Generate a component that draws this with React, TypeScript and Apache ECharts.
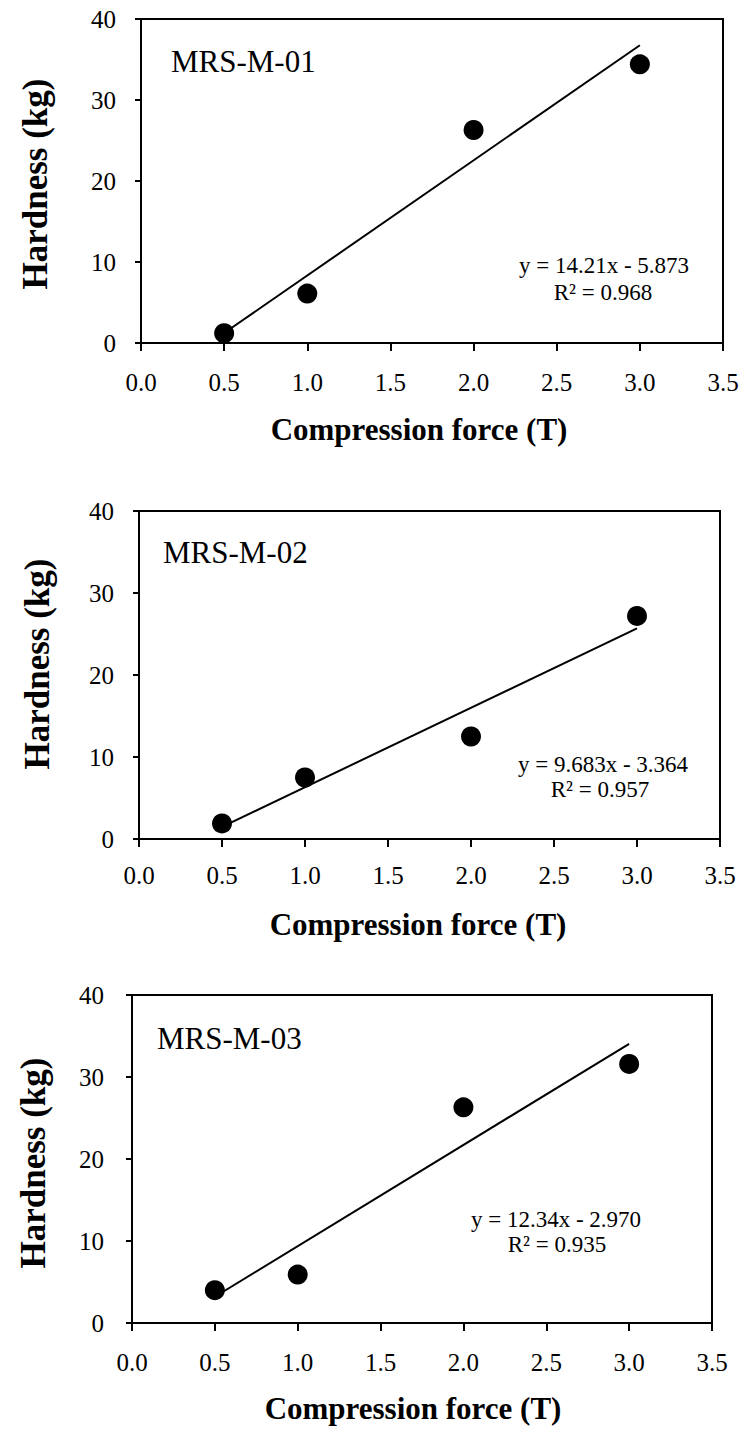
import React, { useEffect, useRef } from "react";
import * as echarts from "echarts";

// ---- data ----
const compressionForce = [0.5, 1.0, 2.0, 3.0];
const hardnessM01 = [1.2, 6.1, 26.3, 34.4];
const hardnessM02 = [1.9, 7.5, 12.5, 27.2];
const hardnessM03 = [4.0, 5.9, 26.3, 31.6];
const sampleNames = ["MRS-M-01", "MRS-M-02", "MRS-M-03"];
const trendSlopes = [14.21, 9.683, 12.34];
const trendIntercepts = [-5.873, -3.364, -2.97];
const equationLabels = ["y = 14.21x - 5.873", "y = 9.683x - 3.364", "y = 12.34x - 2.970"];
const r2Labels = ["R\u00B2 = 0.968", "R\u00B2 = 0.957", "R\u00B2 = 0.935"];
const xAxisTitle = "Compression force (T)";
const yAxisTitle = "Hardness (kg)";

const hardnessSets = [hardnessM01, hardnessM02, hardnessM03];

// ---- layout ----
const FONT = '"Liberation Serif", "Times New Roman", Times, serif';
const INK = "#000";
const W = 743;
const H = 1430;
const panels = [
  { left: 141, right: 723, top: 19, bottom: 343, xLabelMargin: 27, yLabelMargin: 25,
    name: [171, 61.5], eq: [604, 265], r2: [603, 292], yTitle: [35, 184], xTitle: [419, 429] },
  { left: 139, right: 720, top: 511, bottom: 839, xLabelMargin: 24, yLabelMargin: 25,
    name: [163, 552], eq: [603, 764], r2: [600, 789], yTitle: [37, 664], xTitle: [418, 924] },
  { left: 132, right: 712, top: 995, bottom: 1323, xLabelMargin: 27, yLabelMargin: 28,
    name: [157, 1038], eq: [556, 1219], r2: [557, 1244], yTitle: [33, 1163], xTitle: [413, 1408] },
];

export default function App() {
  const ref = useRef<HTMLDivElement>(null);

  useEffect(() => {
    if (!ref.current) return;
    const chart = echarts.init(ref.current, null, { renderer: "svg" });

    const grid: any[] = [];
    const xAxis: any[] = [];
    const yAxis: any[] = [];
    const series: any[] = [];
    const graphic: any[] = [];

    panels.forEach((p, i) => {
      grid.push({
        left: p.left,
        top: p.top,
        width: p.right - p.left,
        height: p.bottom - p.top,
        show: true,
        borderColor: INK,
        borderWidth: 2,
        backgroundColor: "transparent",
      });
      xAxis.push({
        type: "value",
        gridIndex: i,
        min: 0,
        max: 3.5,
        interval: 0.5,
        splitLine: { show: false },
        axisLine: { show: true, onZero: false, lineStyle: { color: INK, width: 2 } },
        axisTick: { show: true, length: 8, lineStyle: { color: INK, width: 2 } },
        axisLabel: {
          margin: p.xLabelMargin,
          color: INK,
          fontFamily: FONT,
          fontSize: 25,
          formatter: (v: number) => v.toFixed(1),
        },
      });
      yAxis.push({
        type: "value",
        gridIndex: i,
        min: 0,
        max: 40,
        interval: 10,
        splitLine: { show: false },
        axisLine: { show: true, onZero: false, lineStyle: { color: INK, width: 2 } },
        axisTick: { show: true, length: 6, lineStyle: { color: INK, width: 2 } },
        axisLabel: {
          margin: p.yLabelMargin,
          color: INK,
          fontFamily: FONT,
          fontSize: 25,
        },
      });

      const xs = compressionForce;
      const ys = hardnessSets[i];
      const x0 = xs[0];
      const x1 = xs[xs.length - 1];
      series.push({
        type: "line",
        xAxisIndex: i,
        yAxisIndex: i,
        data: [
          [x0, trendSlopes[i] * x0 + trendIntercepts[i]],
          [x1, trendSlopes[i] * x1 + trendIntercepts[i]],
        ],
        showSymbol: false,
        symbol: "none",
        lineStyle: { color: INK, width: 2 },
        z: 2,
        silent: true,
      });
      series.push({
        type: "scatter",
        xAxisIndex: i,
        yAxisIndex: i,
        data: xs.map((x, k) => [x, ys[k]]),
        symbol: "circle",
        symbolSize: 20,
        itemStyle: { color: INK, opacity: 1 },
        z: 3,
      });

      graphic.push({
        type: "text",
        x: p.name[0],
        y: p.name[1],
        style: {
          text: sampleNames[i],
          fill: INK,
          font: `31px ${FONT}`,
          textAlign: "left",
          textVerticalAlign: "middle",
        },
      });
      graphic.push({
        type: "text",
        x: p.eq[0],
        y: p.eq[1],
        style: {
          text: equationLabels[i],
          fill: INK,
          font: `23px ${FONT}`,
          textAlign: "center",
          textVerticalAlign: "middle",
        },
      });
      graphic.push({
        type: "text",
        x: p.r2[0],
        y: p.r2[1],
        style: {
          text: r2Labels[i],
          fill: INK,
          font: `23px ${FONT}`,
          textAlign: "center",
          textVerticalAlign: "middle",
        },
      });
      graphic.push({
        type: "text",
        x: p.yTitle[0],
        y: p.yTitle[1],
        rotation: Math.PI / 2,
        style: {
          text: yAxisTitle,
          fill: INK,
          font: `bold 35px ${FONT}`,
          textAlign: "center",
          textVerticalAlign: "middle",
        },
      });
      graphic.push({
        type: "text",
        x: p.xTitle[0],
        y: p.xTitle[1],
        style: {
          text: xAxisTitle,
          fill: INK,
          font: `bold 31px ${FONT}`,
          textAlign: "center",
          textVerticalAlign: "middle",
        },
      });
    });

    chart.setOption({
      animation: false,
      backgroundColor: "#fff",
      grid,
      xAxis,
      yAxis,
      series,
      graphic,
    });

    return () => chart.dispose();
  }, []);

  return (
    <div
      ref={ref}
      style={{ position: "absolute", left: 0, top: 0, width: W, height: H, background: "#fff" }}
    />
  );
}
